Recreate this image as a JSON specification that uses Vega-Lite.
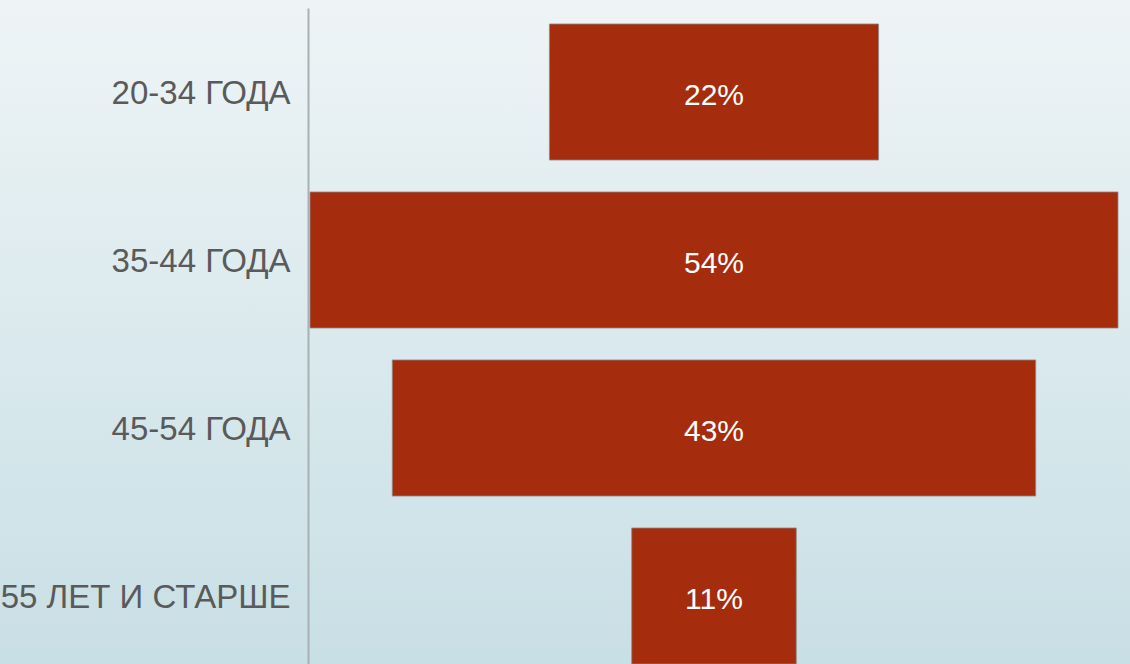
{
  "$schema": "https://vega.github.io/schema/vega-lite/v6.json",
  "width": 1130,
  "height": 664,
  "autosize": "none",
  "padding": 0,
  "background": "#dbe9ed",
  "view": {
    "stroke": null,
    "fill": {"gradient": "linear", "x1": 0, "y1": 0, "x2": 0, "y2": 1, "stops": [{"offset": 0, "color": "#eef4f6"}, {"offset": 1, "color": "#c8dfe5"}]}
  },
  "data": {
    "values": [
      {"group": "20-34 ГОДА", "pct": 0.22},
      {"group": "35-44 ГОДА", "pct": 0.54},
      {"group": "45-54 ГОДА", "pct": 0.43},
      {"group": "55 ЛЕТ И СТАРШЕ", "pct": 0.11}
    ]
  },
  "encoding": {
    "y": {
      "field": "group",
      "type": "nominal",
      "sort": null,
      "scale": {"range": [8, 680], "paddingInner": 0.19, "paddingOuter": 0.095},
      "axis": {
        "title": null,
        "orient": "left",
        "offset": -308,
        "ticks": false,
        "domainColor": "#a9b0b3",
        "domainWidth": 2,
        "labelFont": "Liberation Sans",
        "labelFontSize": 33,
        "labelColor": "#5a5a5a",
        "labelPadding": 18,
        "labelLimit": 0,
        "labelOffset": 2
      }
    }
  },
  "layer": [
    {
      "mark": {"type": "bar", "color": "#a52d0e", "stroke": "#8f8a88", "strokeWidth": 0.8},
      "encoding": {
        "x": {
          "field": "pct",
          "type": "quantitative",
          "stack": "center",
          "scale": {"domain": [0, 0.54], "range": [310, 1118], "nice": false, "zero": false},
          "axis": null
        }
      }
    },
    {
      "mark": {"type": "text", "color": "#ffffff", "font": "Liberation Sans", "fontSize": 30, "align": "center", "baseline": "middle", "dy": 4},
      "encoding": {
        "x": {"datum": 0.27, "type": "quantitative"},
        "text": {"field": "pct", "type": "quantitative", "format": ".0%"}
      }
    }
  ]
}
